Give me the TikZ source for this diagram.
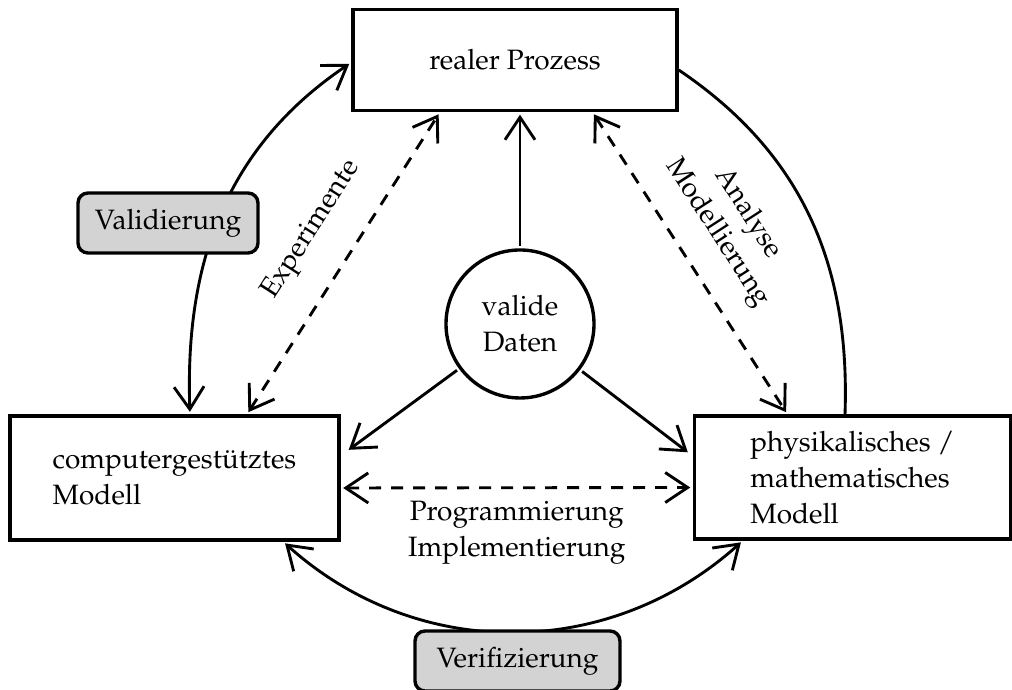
\documentclass[tikz,border=0pt]{standalone}
\usepackage[T1]{fontenc}
\usepackage{mathpazo}
\usetikzlibrary{arrows.meta}
\definecolor{boxgray}{RGB}{211,211,211}
\begin{document}
\begin{tikzpicture}[x=0.4pt,y=0.4pt,
  font=\fontsize{11.2}{14.4}\selectfont,
  line width=1.15pt,
  tip/.tip={Straight Barb[length=9pt,width=12pt]},
  box/.style={draw,line width=1.35pt,rectangle,align=left,inner sep=0pt},
  grbox/.style={draw,line width=1.35pt,rectangle,rounded corners=4pt,fill=boxgray,minimum width=72pt,minimum height=24pt,inner sep=0pt},
  conn/.style={shorten <=1pt,shorten >=1pt},
  dsh/.style={dash pattern=on 4.8pt off 4pt}
]
\useasboundingbox (0,0) rectangle (1012,690);
% main nodes
\node[box,minimum width=129.6pt,minimum height=40.4pt,align=center] (realer) at (515,630) {realer Prozess};
\node[box,minimum width=131.6pt,minimum height=49.6pt] (comp) at (174.5,212) {computergest\"utztes\\Modell};
\node[box,minimum width=126.4pt,minimum height=49.2pt] (phys) at (852.5,212.5) {physikalisches /\\mathematisches\\Modell};
\node[draw,circle,line width=1.35pt,minimum size=59.2pt,inner sep=0pt,align=center] (vd) at (520,366) {valide\\Daten};
% solid arrows from the data circle
\draw[-tip,conn] (vd) -- (vd.north |- realer.south);
\draw[-tip,conn] (vd) -- ([xshift=2.4pt,yshift=-14.8pt]comp.north east);
\draw[-tip,conn] (vd) -- ([xshift=-1.2pt,yshift=-15.8pt]phys.north west);
% dashed double arrows
\draw[tip-tip,conn,dsh] ([xshift=29pt]comp.north) -- ([xshift=-30pt]realer.south)
  node[pos=0.53,sloped,above=8.5pt] (lexp) {Experimente};
\draw[tip-tip,conn,dsh] ([xshift=31pt]realer.south) -- ([xshift=-26pt]phys.north)
  node[pos=0.47,sloped,above=6pt,align=center] (lana) {Analyse\\Modellierung};
\draw[tip-tip,conn,dsh] ([yshift=-4pt]comp.east) -- ([yshift=-4pt]phys.west)
  node[midway,below=1.3pt,align=center] (lprog) {Programmierung\\Implementierung};
% outer curves
\draw[tip-tip,conn] ([xshift=6.2pt]comp.north) to[out=92,in=214] ([yshift=-1pt]realer.west);
\draw ([yshift=-4pt]realer.east) to[out=-34,in=88] ([xshift=-3pt]phys.north);
\draw[tip-tip,conn] ([xshift=-23pt]comp.south east) to[out=-42,in=-138] ([xshift=20pt]phys.south west);
% grey label boxes
\node[grbox] (valid) at (168,467) {Validierung};
\node[grbox,minimum width=82pt] (verif) at (517.5,29) {Verifizierung};
\end{tikzpicture}
\end{document}
